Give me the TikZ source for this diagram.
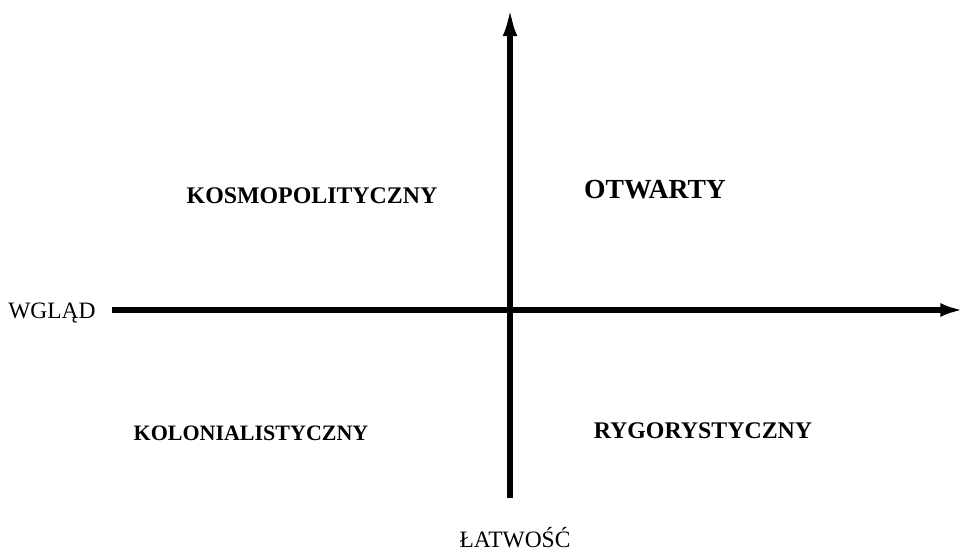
\documentclass[tikz,border=0pt]{standalone}
\usepackage{fontspec}
\setmainfont{Liberation Serif}
\usetikzlibrary{arrows.meta}
\begin{document}
\begin{tikzpicture}[x=0.75pt, y=-0.75pt]
% Quadrant chart, coordinates in pixels of the original figure
\providecommand{\quadAxisWidth}{4.4pt}
\providecommand{\quadAxisColor}{black}
\tikzset{
  axisline/.style={draw=\quadAxisColor, line width=\quadAxisWidth},
  quadlabel/.style={inner sep=0pt, anchor=base, font=\bfseries\fontsize{17.9pt}{21pt}\selectfont},
  axislabel/.style={inner sep=0pt, anchor=base, font=\fontsize{17.6pt}{21pt}\selectfont}
}
\useasboundingbox (0,0) rectangle (963,551);
% Axis end points
\coordinate (vbottom) at (510,498);
\coordinate (vtop) at (510,4);
\coordinate (hleft) at (112,310);
\coordinate (hright) at (963,310);
% Axes
\draw[axisline, -{Latex[length=24pt, width=10.5pt]}] (vbottom) -- (vtop);
\draw[axisline, -{Latex[length=17pt, width=10.5pt]}] (hleft) -- (hright);
% Quadrant names
\node[quadlabel] (kosmo) at (312,203) {KOSMOPOLITYCZNY};
\node[quadlabel, font=\bfseries\fontsize{20.7pt}{24pt}\selectfont] (otwarty) at (655,198) {OTWARTY};
\node[quadlabel, font=\bfseries\fontsize{16.5pt}{20pt}\selectfont] (kolonial) at (251,440) {KOLONIALISTYCZNY};
\node[quadlabel] (rygor) at (703,438) {RYGORYSTYCZNY};
% Axis names
\node[axislabel, anchor=base west] (wglad) at (8,318) {WGLĄD};
\node[axislabel] (latwosc) at (515,547) {ŁATWOŚĆ};
\end{tikzpicture}
\end{document}
